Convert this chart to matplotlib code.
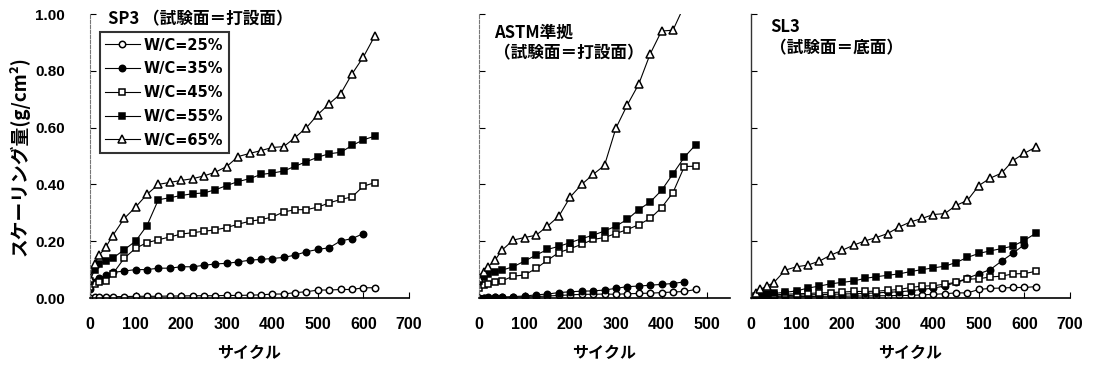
import matplotlib
matplotlib.use("Agg")
import matplotlib.pyplot as plt
from matplotlib import font_manager

JP = ['Noto Sans CJK JP', 'DejaVu Sans']
installed = {f.name for f in font_manager.fontManager.ttflist}
NUM = 'Liberation Sans Narrow' if 'Liberation Sans Narrow' in installed else 'Liberation Sans'

# cycles at which the scaling was weighed
cycles = [0, 10, 20, 35, 50, 75, 100, 125, 150, 175, 200, 225, 250, 275,
          300, 325, 350, 375, 400, 425, 450, 475, 500, 525, 550, 575, 600, 625]

series = ["W/C=25%", "W/C=35%", "W/C=45%", "W/C=55%", "W/C=65%"]

# SP3, test face = casting face
sp3_25 = [0.000, 0.003, 0.003, 0.004, 0.005, 0.005, 0.006, 0.006, 0.006, 0.007, 0.007, 0.008, 0.008, 0.008,
          0.009, 0.009, 0.010, 0.011, 0.014, 0.014, 0.019, 0.022, 0.028, 0.028, 0.030, 0.030, 0.036, 0.036]
sp3_35 = [0.030, 0.055, 0.070, 0.080, 0.090, 0.095, 0.100, 0.100, 0.105, 0.105, 0.110, 0.110, 0.115, 0.120,
          0.122, 0.127, 0.133, 0.136, 0.139, 0.143, 0.151, 0.163, 0.171, 0.177, 0.201, 0.209, 0.227]
sp3_45 = [0.040, 0.050, 0.055, 0.060, 0.085, 0.140, 0.175, 0.195, 0.205, 0.215, 0.225, 0.230, 0.235, 0.240,
          0.248, 0.260, 0.270, 0.276, 0.285, 0.303, 0.311, 0.311, 0.320, 0.335, 0.347, 0.356, 0.394, 0.406]
sp3_55 = [0.060, 0.100, 0.120, 0.130, 0.140, 0.170, 0.200, 0.255, 0.346, 0.353, 0.361, 0.367, 0.370, 0.381,
          0.396, 0.410, 0.420, 0.435, 0.440, 0.447, 0.464, 0.480, 0.496, 0.508, 0.513, 0.537, 0.557, 0.570]
sp3_65 = [0.070, 0.120, 0.150, 0.180, 0.220, 0.280, 0.320, 0.365, 0.400, 0.407, 0.414, 0.420, 0.430, 0.443,
          0.463, 0.498, 0.509, 0.519, 0.530, 0.533, 0.565, 0.600, 0.646, 0.684, 0.719, 0.789, 0.849, 0.923]

# ASTM method, test face = casting face
astm_25 = [0.000, 0.001, 0.001, 0.002, 0.002, 0.003, 0.004, 0.005, 0.007, 0.009, 0.011, 0.013, 0.013, 0.014,
           0.013, 0.015, 0.016, 0.017, 0.019, 0.021, 0.023, 0.030]
astm_35 = [0.000, 0.001, 0.002, 0.003, 0.003, 0.005, 0.007, 0.011, 0.014, 0.019, 0.022, 0.024, 0.025, 0.028,
           0.034, 0.040, 0.042, 0.045, 0.048, 0.051, 0.057]
astm_45 = [0.034, 0.046, 0.051, 0.055, 0.060, 0.077, 0.081, 0.104, 0.133, 0.160, 0.174, 0.189, 0.206, 0.213,
           0.227, 0.241, 0.258, 0.280, 0.318, 0.371, 0.463, 0.464]
astm_55 = [0.060, 0.075, 0.085, 0.092, 0.098, 0.110, 0.130, 0.151, 0.171, 0.182, 0.195, 0.209, 0.221, 0.236,
           0.253, 0.277, 0.311, 0.338, 0.379, 0.437, 0.496, 0.540]
astm_65 = [0.070, 0.092, 0.110, 0.133, 0.168, 0.204, 0.213, 0.221, 0.253, 0.288, 0.356, 0.400, 0.435, 0.467,
           0.598, 0.680, 0.753, 0.859, 0.940, 0.943, 1.030]

# SL3, test face = bottom face
sl3_25 = [0.000, 0.002, 0.003, 0.003, 0.004, 0.004, 0.005, 0.005, 0.006, 0.006, 0.006, 0.007, 0.007, 0.008,
          0.008, 0.009, 0.009, 0.011, 0.013, 0.015, 0.018, 0.018, 0.030, 0.034, 0.035, 0.037, 0.037, 0.040]
sl3_35 = [0.000, 0.002, 0.004, 0.005, 0.006, 0.008, 0.010, 0.011, 0.012, 0.013, 0.014, 0.015, 0.016, 0.018,
          0.020, 0.022, 0.025, 0.030, 0.035, 0.042, 0.055, 0.070, 0.085, 0.100, 0.130, 0.158, 0.188]
sl3_45 = [0.000, 0.004, 0.007, 0.009, 0.011, 0.013, 0.015, 0.016, 0.018, 0.019, 0.021, 0.023, 0.023, 0.024,
          0.027, 0.030, 0.037, 0.042, 0.043, 0.049, 0.055, 0.066, 0.068, 0.074, 0.077, 0.085, 0.086, 0.094]
sl3_55 = [0.000, 0.008, 0.011, 0.013, 0.016, 0.020, 0.025, 0.035, 0.042, 0.050, 0.055, 0.060, 0.069, 0.075,
          0.080, 0.085, 0.093, 0.100, 0.106, 0.112, 0.125, 0.143, 0.157, 0.166, 0.174, 0.183, 0.203, 0.228]
sl3_65 = [0.000, 0.016, 0.030, 0.042, 0.054, 0.098, 0.110, 0.116, 0.130, 0.151, 0.168, 0.186, 0.201, 0.213,
          0.227, 0.250, 0.268, 0.280, 0.294, 0.297, 0.326, 0.344, 0.396, 0.422, 0.440, 0.484, 0.510, 0.531]

panels = [
    ("SP3 （試験面＝打設面）", [sp3_25, sp3_35, sp3_45, sp3_55, sp3_65], [0, 100, 200, 300, 400, 500, 600, 700], 700),
    ("ASTM準拠\n（試験面＝打設面）", [astm_25, astm_35, astm_45, astm_55, astm_65], [0, 100, 200, 300, 400, 500], 550),
    ("SL3\n（試験面＝底面）", [sl3_25, sl3_35, sl3_45, sl3_55, sl3_65], [0, 100, 200, 300, 400, 500, 600, 700], 700),
]

styles = [
    dict(marker='o', mfc='white'),
    dict(marker='o', mfc='black'),
    dict(marker='s', mfc='white'),
    dict(marker='s', mfc='black'),
    dict(marker='^', mfc='white'),
]

W, H = 1095, 367
fig = plt.figure(figsize=(W / 100, H / 100), dpi=100)

# axes boxes in pixels: left, width
boxes = [(90, 319), (479, 251), (751, 319)]
top, bottom = 14, 298

axes = []
for i, ((title, data, xticks, xmax), (left, width)) in enumerate(zip(panels, boxes)):
    ax = fig.add_axes([left / W, 1 - bottom / H, width / W, (bottom - top) / H])
    axes.append(ax)
    for name, vals, st in zip(series, data, styles):
        ms = 5.4 if st['marker'] == '^' else 4.6
        ax.plot(cycles[:len(vals)], vals, color='black', lw=0.8, ms=ms, mec='black', mew=1.1,
                label=name, **st)
    ax.set_xlim(0, xmax)
    ax.set_ylim(0, 1.0)
    ax.set_xticks(xticks)
    ax.set_yticks([0, 0.2, 0.4, 0.6, 0.8, 1.0])
    ax.tick_params(direction='in', length=4, width=0.8, colors='black')
    ax.tick_params(axis='x', pad=14)
    ax.tick_params(axis='y', pad=18)
    for lab in ax.get_xticklabels():
        lab.set_fontfamily(NUM)
        lab.set_fontweight('bold')
        lab.set_fontsize(11.5)
    if i == 0:
        ax.set_yticklabels(["%.2f" % v for v in [0, 0.2, 0.4, 0.6, 0.8, 1.0]])
        for lab in ax.get_yticklabels():
            lab.set_fontfamily('Liberation Sans')
            lab.set_fontweight('bold')
            lab.set_fontsize(11)
    else:
        ax.set_yticklabels([])
    ax.spines['top'].set_visible(False)
    ax.spines['right'].set_visible(False)
    ax.spines['bottom'].set_linewidth(1.2)
    if i < 2:
        ax.spines['left'].set_linestyle((0, (3, 1.5)))
        ax.spines['left'].set_color('#777777')
        ax.spines['left'].set_linewidth(0.8)
    else:
        ax.spines['left'].set_color('#333333')
        ax.spines['left'].set_linewidth(1.0)
    ax.set_xlabel("サイクル", family=JP, fontweight='bold', fontsize=11.5, labelpad=9)

axes[0].text(0.055, 1.012, panels[0][0], transform=axes[0].transAxes, family=JP,
             fontweight='bold', fontsize=12, va='top', ha='left')
axes[1].text(0.06, 0.965, panels[1][0], transform=axes[1].transAxes, family=JP,
             fontweight='bold', fontsize=12, va='top', ha='left', linespacing=1.2)
axes[2].text(0.06, 0.985, panels[2][0], transform=axes[2].transAxes, family=JP,
             fontweight='bold', fontsize=12, va='top', ha='left', linespacing=1.2)

axes[0].set_ylabel("スケーリング量(g/cm²)", family=JP, fontweight='bold', fontsize=13.5, labelpad=4)

leg = axes[0].legend(loc='upper left', bbox_to_anchor=(0.03, 0.935), borderaxespad=0, frameon=True,
                     fancybox=False, edgecolor='black', handlelength=2.4, labelspacing=0.6,
                     borderpad=0.35, handletextpad=0.3,
                     prop=dict(family='DejaVu Sans', weight='bold', size=10.5))
leg.get_frame().set_linewidth(1.5)

fig.savefig("out.png", dpi=100, facecolor='white')
